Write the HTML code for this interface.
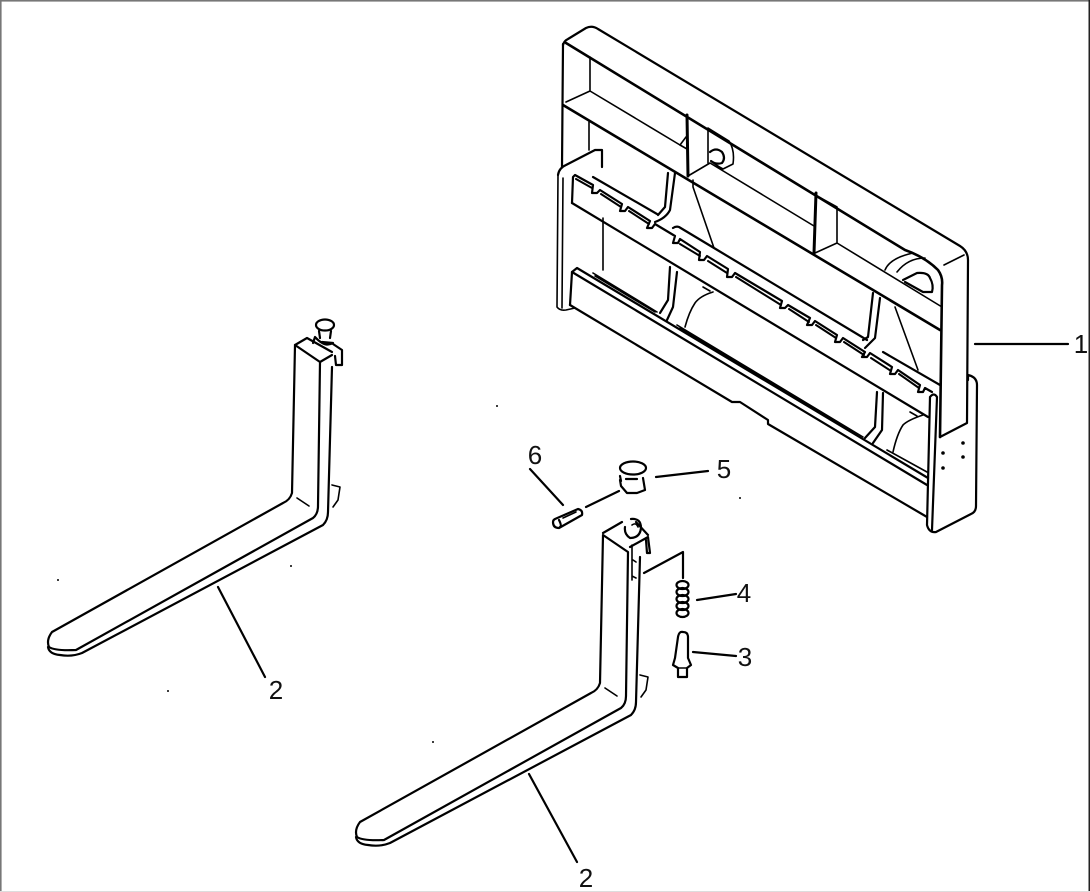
<!DOCTYPE html>
<html><head><meta charset="utf-8"><style>
html,body{margin:0;padding:0;background:#fff}
svg{display:block}
path,line,ellipse,circle{fill:none;stroke:#000;stroke-width:2.2;stroke-linejoin:round;stroke-linecap:round}
text{font-family:"Liberation Sans",sans-serif;font-size:26px;fill:#111;text-anchor:middle}
.t{stroke-width:1.6}
.d{fill:#000;stroke:none}
</style></head><body>
<svg width="1090" height="892" viewBox="0 0 1090 892" xmlns="http://www.w3.org/2000/svg">
<rect x="0" y="0" width="1090" height="892" fill="#fff"/>
<rect x="0" y="0" width="1090" height="1.6" style="fill:#777"/>
<rect x="0" y="0" width="1.6" height="892" style="fill:#777"/>
<rect x="1088.5" y="0" width="1.5" height="892" style="fill:#222"/>
<rect x="0" y="891" width="1090" height="1" style="fill:#ddd"/>

<!-- frame -->
<path d="M563 45Q564 41 568 39L586 28Q592 25 598 29L960 246Q968 251 968 260L967 423L940 437"/>
<path d="M563 44L562 167"/>
<path d="M566 43L905 250Q925 257 938 270Q943 277 942 285L940 437" style="stroke-width:2.6"/>
<path d="M563 105L940 330" style="stroke-width:2.6"/>
<path d="M566 102L590 91L680 145M590 57V91" class="t"/>
<path d="M687 115L688 176" style="stroke-width:3"/>
<path d="M688 176L710 163L814 226M708 128L708 163M708 128L729 141Q735 150 733 164L723 169Q716 165 712 162" class="t"/>
<path d="M710 152Q716 147 722 152Q726 158 722 163Q716 165 711 161" />
<path d="M680 145L686 137M680 145L687 149" class="t"/>
<path d="M816 193L814 253" style="stroke-width:3"/>
<path d="M817 196L837 207L837 243M815 253L837 243L942 307" class="t"/>
<path d="M589 122V150M603 218V270" class="t"/>
<path d="M885 270Q890 258 913 253M897 272Q908 258 925 258" class="t"/>
<path d="M903 280L917 273Q928 272 930 278Q934 285 932 292H923L905 282" />
<path d="M964 255L944 265" class="t"/>

<!-- left plate -->
<path d="M558 175Q559 168 566 165L595 150H602V167"/>
<path d="M558 175L557 307Q560 311 566 310L575 308M563 178L562 308" class="t"/>

<!-- upper rail -->
<path d="M572 203L573 177L575 175L593 185L592 193L597 193L600 190L622 204L620 211L625 211L628 207L650 221L647 228L652 228L655 224L675 236L673 243L678 243L680 239L700 252L699 260L704 260L707 256L728 269L727 277L732 277L735 273L782 301L780 308L785 308L788 305L810 318L807 325L812 325L815 321L837 335L835 342L840 342L843 338L865 352L862 357L867 357L870 353L892 367L890 374L895 374L898 370L920 385L918 392L923 392L925 388L932 392"/>
<path d="M576 179L592 188M601 194L621 207M629 211L649 224M680 244L700 256M708 261L727 273M736 277L781 305M789 309L809 322M816 325L836 338M844 342L864 355M871 358L891 371M899 374L919 388" style="stroke-width:2"/>
<path d="M572 203L928 417"/>
<path d="M593 177L657 214M673 228Q676 226 679 227L714 248L867 340M883 352L940 385"/>
<!-- curves behind -->
<path d="M668 173L665 207L658 215M675 173L670 210Q666 218 655 222"/>
<path d="M693 180V187L714 248" class="t"/>
<path d="M670 267L668 300L660 313M677 272L673 307L667 320"/>
<path d="M713 292Q700 296 695 303Q689 312 685 327M703 287L710 291" class="t"/>
<path d="M873 293L868 337L863 340M880 298L875 338L865 348"/>
<path d="M895 307L918 370" class="t"/>
<path d="M877 392L875 427L865 438M883 393L882 430L873 443"/>
<path d="M923 415Q908 420 903 425Q897 434 893 452M910 412L917 416" class="t"/>

<!-- lower rail -->
<path d="M570 305L572 272L577 268L928 478"/>
<path d="M572 272L927 485"/>
<path d="M593 273L657 312M677 325L863 437M887 450L927 472M595 276L655 312M680 328L860 437" class="t"/>
<path d="M570 305L732 402H740L768 420V424L927 517" />

<!-- end plate -->
<path d="M930 397Q934 392 937 397L932 530M930 397L927 525Q929 533 936 532L971 514Q976 512 976 506L977 385Q977 377 968 375L968 380"/>
<circle cx="943" cy="453" r="1.8" class="d"/><circle cx="963" cy="443" r="1.8" class="d"/><circle cx="963" cy="457" r="1.8" class="d"/><circle cx="943" cy="468" r="1.8" class="d"/>

<!-- forks -->
<path d="M295 345L292 493Q290 500 283 503L52 632Q46 640 49 647Q55 651 76 650L313 518Q318 514 318 506L320 362Z"/>
<path d="M295 345L307 338L332 352M320 362L332 355"/>
<path d="M332 367L328 512Q328 520 323 525L82 653Q72 657 60 655Q49 654 48 647"/>
<path d="M297 498L309 506" class="t"/>
<path d="M332 485L340 487L338 500L333 507" class="t"/>
<g transform="translate(308,190)">
<path d="M295 345L292 493Q290 500 283 503L52 632Q46 640 49 647Q55 651 76 650L313 518Q318 514 318 506L320 362Z"/>
<path d="M332 367L328 512Q328 520 323 525L82 653Q72 657 60 655Q49 654 48 647"/>
<path d="M297 498L309 506" class="t"/>
<path d="M332 485L340 487L338 500L333 507" class="t"/>
</g>

<!-- left pin -->
<ellipse cx="325" cy="325" rx="9" ry="5.5"/>
<path d="M319 331L320 338M331 331L330 338M315 337L313 343M315 337Q325 348 333 343L322 342"/>
<path d="M333 344L342 350L342 365L336 365L335 356"/>
<!-- right fork top -->
<path d="M603 533L622 522M630 547L648 537L650 553H647L646 540M636 522L648 535"/>
<path d="M631 519Q641 518 641 528Q640 538 630 538Q624 534 625 527" />
<path d="M632 525Q636 522 638 527" class="t"/>
<path d="M632 545V580M633 560L636 562M632 576L636 578" class="t"/>

<!-- parts -->
<ellipse cx="633" cy="468" rx="13" ry="6.5"/>
<path d="M620 480L621 486L627 493H637L645 490L643 478M620 476L621 481M626 479H637"/>
<path d="M555 519L578 509Q583 510 582 515L559 528Q553 528 553 522Q553 520 555 519ZM559 520Q562 526 560 527"/>
<path d="M563 518L576 512" class="t"/>
<ellipse cx="682.5" cy="585" rx="6" ry="4"/><ellipse cx="682.5" cy="592" rx="6" ry="4"/><ellipse cx="682.5" cy="599" rx="6" ry="4"/><ellipse cx="682.5" cy="606" rx="6" ry="4"/><ellipse cx="682.5" cy="613" rx="6" ry="4"/>
<path d="M678 637Q679 631 683 632Q688 632 688 637L688 658L691 665L687 668V677H678V668L673 665L675 658Z"/>
<path d="M679 668H686" class="t"/>

<!-- leaders -->
<path d="M975 344H1068M656 477L708 471M586 507L619 491M530 469L563 505M644 573L683 552V578M697 600L736 594M693 652L736 656M218 587L265 677M529 774L577 862"/>

<text x="1081" y="353">1</text>
<text x="276" y="699">2</text>
<text x="586" y="887">2</text>
<text x="744" y="602">4</text>
<text x="745" y="666">3</text>
<text x="724" y="478">5</text>
<text x="535" y="464">6</text>

<circle cx="168" cy="691" r="1" class="d"/><circle cx="433" cy="742" r="1" class="d"/><circle cx="740" cy="498" r="1" class="d"/><circle cx="58" cy="580" r="1" class="d"/><circle cx="291" cy="566" r="1" class="d"/><circle cx="497" cy="406" r="1" class="d"/>
</svg>
</body></html>
